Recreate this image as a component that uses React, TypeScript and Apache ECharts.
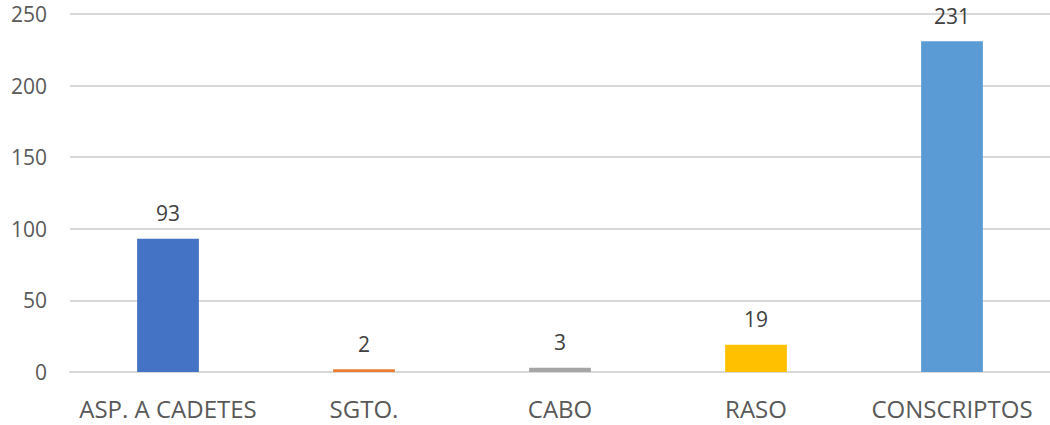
import React, { useEffect, useRef } from "react";
import * as echarts from "echarts";

const categories = ["ASP. A CADETES", "SGTO.", "CABO", "RASO", "CONSCRIPTOS"];
const values = [93, 2, 3, 19, 231];
const colors = ["#4472C4", "#ED7D31", "#A5A5A5", "#FFC000", "#5B9BD5"];
const yTicks = [0, 50, 100, 150, 200, 250];

export default function App() {
  const ref = useRef<HTMLDivElement>(null);
  useEffect(() => {
    if (!ref.current) return;
    const chart = echarts.init(ref.current, null, { renderer: "svg" });
    const font = "'Open Sans', sans-serif";
    chart.setOption({
      animation: false,
      grid: { left: 70, right: -4, top: 14, bottom: 53, containLabel: false },
      xAxis: {
        type: "category",
        data: categories,
        axisLine: { show: true, lineStyle: { color: "#D9D9D9", width: 2 } },
        axisTick: { show: false },
        axisLabel: { color: "#595959", fontSize: 24, fontFamily: font, margin: 24, interval: 0 },
      },
      yAxis: {
        type: "value",
        min: yTicks[0],
        max: yTicks[yTicks.length - 1],
        interval: 50,
        axisLine: { show: false },
        axisTick: { show: false },
        splitLine: { lineStyle: { color: "#D9D9D9", width: 2 } },
        axisLabel: { color: "#595959", fontSize: 21, fontFamily: font, margin: 23 },
      },
      series: [
        {
          type: "bar",
          barWidth: "31.5%",
          data: values.map((v, i) => ({ value: v, itemStyle: { color: colors[i] } })),
          label: {
            show: true,
            position: "top",
            distance: 15,
            color: "#404040",
            fontSize: 21,
            fontFamily: font,
          },
        },
      ],
    });
    return () => chart.dispose();
  }, []);
  return (
    <div
      ref={ref}
      style={{ position: "absolute", left: 0, top: 0, width: 1050, height: 425, background: "#fff" }}
    />
  );
}
